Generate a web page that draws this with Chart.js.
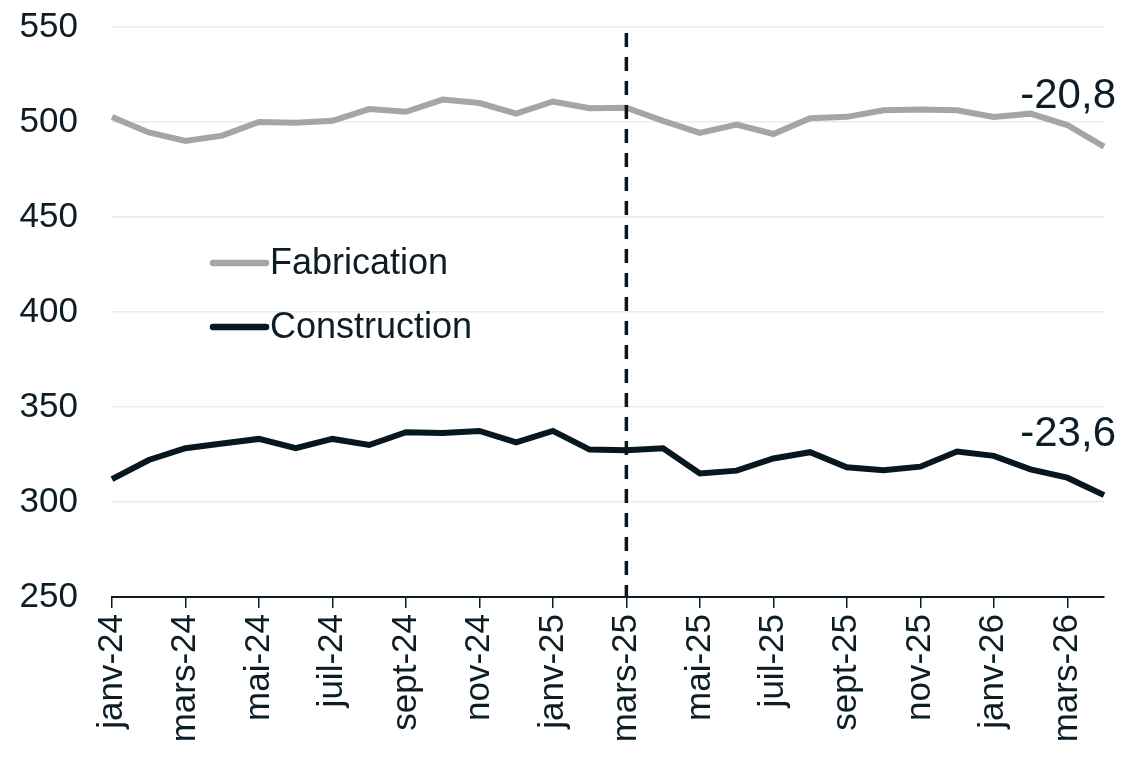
<!DOCTYPE html>
<html lang="fr">
<head>
<meta charset="utf-8">
<title>Fabrication / Construction</title>
<script src="https://cdn.jsdelivr.net/npm/chart.js@4.4.1/dist/chart.umd.min.js"></script>
<style>
    html, body { margin: 0; padding: 0; background: #ffffff; }
    #wrap { width: 1122px; height: 757px; position: relative; }
</style>
</head>
<body>
<div id="wrap"><canvas id="main-chart"></canvas></div>
<script>
const months = [
    'janv-24', 'févr-24', 'mars-24', 'avr-24', 'mai-24', 'juin-24', 'juil-24', 'août-24',
    'sept-24', 'oct-24', 'nov-24', 'déc-24', 'janv-25', 'févr-25', 'mars-25', 'avr-25',
    'mai-25', 'juin-25', 'juil-25', 'août-25', 'sept-25', 'oct-25', 'nov-25', 'déc-25',
    'janv-26', 'févr-26', 'mars-26', 'avr-26'
];

const fabrication = [
    502.6, 494.5, 490.0, 492.8, 500.0, 499.6, 500.6, 506.8, 505.4, 511.8, 510.0, 504.4, 510.8, 507.2,
    507.5, 500.6, 494.3, 498.6, 493.7, 502.0, 502.7, 506.2, 506.6, 506.2, 502.6, 504.4, 498.4, 487.0
];

const construction = [
    312.0, 322.1, 328.3, 330.8, 333.2, 328.3, 333.2, 330.0, 336.7, 336.3, 337.4, 331.4, 337.4, 327.6,
    327.3, 328.3, 315.0, 316.5, 322.9, 326.2, 318.3, 316.7, 318.6, 326.6, 324.3, 317.2, 312.8, 303.6
];

const seriesNames = ['Fabrication', 'Construction'];
const seriesColors = ['#a5a5a5', '#06171f'];
const endLabels = ['-20,8', '-23,6'];
const endLabelValues = [513.2, 335.4];   // vertical anchor of the end labels, in axis units
const markerMonth = 'mars-25';

const TEXT = '#0d1d26';
const FONT = '"Liberation Sans", Arial, sans-serif';

// dashed vertical marker + end labels + legend inside the plot
const overlayPlugin = {
    id: 'overlay',
    afterDatasetsDraw(chart) {
        const { ctx, chartArea, scales } = chart;
        const x = scales.x.getPixelForValue(months.indexOf(markerMonth));

        ctx.save();
        ctx.strokeStyle = '#06171f';
        ctx.lineWidth = 3.5;
        ctx.setLineDash([14, 10]);
        ctx.beginPath();
        ctx.moveTo(x, chartArea.top + 6);
        ctx.lineTo(x, chartArea.bottom);
        ctx.stroke();
        ctx.setLineDash([]);

        ctx.fillStyle = TEXT;
        ctx.font = '42px ' + FONT;
        ctx.textAlign = 'right';
        ctx.textBaseline = 'middle';
        endLabels.forEach((txt, i) => {
            ctx.fillText(txt, chart.width - 6, scales.y.getPixelForValue(endLabelValues[i]));
        });

        // legend
        ctx.font = '36px ' + FONT;
        ctx.textAlign = 'left';
        const rows = [263, 327];
        seriesNames.forEach((name, i) => {
            ctx.strokeStyle = seriesColors[i];
            ctx.lineWidth = 6.5;
            ctx.lineCap = 'round';
            ctx.beginPath();
            ctx.moveTo(213, rows[i]);
            ctx.lineTo(266, rows[i]);
            ctx.stroke();
            ctx.fillText(name, 270, rows[i] + 1);
        });
        ctx.restore();
    }
};

const ctx = document.getElementById('main-chart').getContext('2d');

new Chart(ctx, {
    type: 'line',
    data: {
        labels: months,
        datasets: [
            {
                label: seriesNames[0],
                data: fabrication,
                borderColor: seriesColors[0],
                borderWidth: 6,
                pointRadius: 0,
                tension: 0,
                fill: false
            },
            {
                label: seriesNames[1],
                data: construction,
                borderColor: seriesColors[1],
                borderWidth: 6,
                pointRadius: 0,
                tension: 0,
                fill: false
            }
        ]
    },
    options: {
        responsive: true,
        maintainAspectRatio: false,
        animation: false,
        layout: {
            padding: { top: 27, right: 18, left: 0, bottom: 0 }
        },
        plugins: {
            legend: { display: false },
            tooltip: { enabled: false }
        },
        scales: {
            x: {
                offset: false,
                afterFit: (scale) => { scale.height = 160; },
                grid: {
                    drawOnChartArea: false,
                    drawTicks: true,
                    tickLength: 11,
                    color: TEXT,
                    lineWidth: 1.5
                },
                border: {
                    display: true,
                    color: TEXT,
                    width: 2
                },
                ticks: {
                    autoSkip: false,
                    minRotation: 90,
                    maxRotation: 90,
                    padding: 6,
                    color: TEXT,
                    font: { family: FONT, size: 35 },
                    callback: (value, index) => (index % 2 === 0 ? months[index] : null)
                }
            },
            y: {
                min: 250,
                max: 550,
                afterFit: (scale) => {
                    scale.width = 112;
                    // tick padding is only meant to push labels left, not to shrink the plot
                    scale.paddingTop = 0;
                    scale.paddingBottom = 0;
                },
                grid: {
                    drawTicks: false,
                    color: '#ebebeb',
                    lineWidth: 1.5
                },
                border: { display: false },
                ticks: {
                    stepSize: 50,
                    padding: 34,
                    color: TEXT,
                    font: { family: FONT, size: 35 }
                }
            }
        }
    },
    plugins: [overlayPlugin]
});
</script>
</body>
</html>
